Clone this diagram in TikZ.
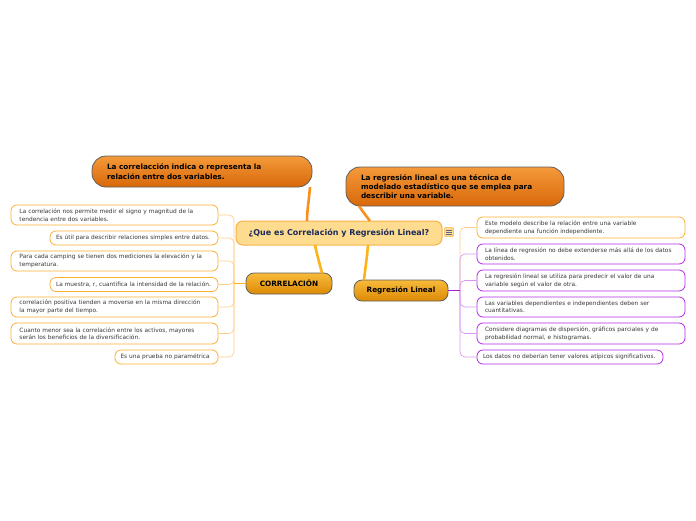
\documentclass[tikz,border=0pt]{standalone}
\usepackage{fontspec}
\setmainfont{DejaVu Sans}
\definecolor{leafO}{HTML}{FBB034}
\definecolor{linkO}{HTML}{FDD08C}
\definecolor{leafP}{HTML}{B62BEA}
\definecolor{linkP}{HTML}{DA95F0}
\definecolor{linkPd}{HTML}{A51FD6}
\definecolor{txtG}{HTML}{3A3A3A}
\definecolor{navy}{HTML}{1B2A5A}
\definecolor{pillTop}{HTML}{F49A3A}
\definecolor{pillBot}{HTML}{D8680A}
\definecolor{goldTop}{HTML}{F8BA3A}
\definecolor{goldBot}{HTML}{DC8A06}
\definecolor{edgeG}{HTML}{5F5F5F}
\definecolor{mainFill}{HTML}{FDDC90}
\definecolor{mainEdge}{HTML}{F7B24A}
\definecolor{thickO}{HTML}{F9901E}
\definecolor{thickY}{HTML}{FDB31A}
\begin{document}
\begin{tikzpicture}[x=1pt,y=-1pt,
  mainnode/.style={draw=mainEdge, line width=1pt, fill=mainFill, rounded corners=7pt,
    minimum width=206pt, minimum height=24pt, text=navy,
    font=\fontsize{8}{9}\selectfont\bfseries},
  bigpill/.style={draw=edgeG, line width=0.8pt, top color=pillTop, bottom color=pillBot,
    rounded corners=14pt, align=left, inner xsep=17pt,
    font=\fontsize{7.3}{10}\selectfont\bfseries, text=black},
  subpill/.style={draw=edgeG, line width=0.8pt, top color=goldTop, bottom color=goldBot,
    rounded corners=8pt, minimum height=21pt, text=black,
    font=\fontsize{7.3}{8}\selectfont\bfseries},
  leaf/.style={draw=leafO, line width=0.8pt, fill=white, rounded corners=6pt,
    align=left, text=txtG, font=\fontsize{5.85}{7.6}\selectfont, inner ysep=2pt},
  leafpur/.style={leaf, draw=leafP},
  linkOr/.style={draw=linkO, line width=0.7pt, rounded corners=5pt},
  linkPu/.style={draw=linkP, line width=0.7pt, rounded corners=5pt},
  thick1/.style={draw=thickO, line width=2.6pt},
  thick2/.style={draw=thickY, line width=2.6pt}
]
\useasboundingbox (0,0) rectangle (696,520);

% central
\node[mainnode] (c) at (339,233) {¿Que es Correlación y Regresión Lineal?};
\node[draw=mainEdge, fill=mainFill, line width=0.5pt, rounded corners=1pt,
  minimum width=9pt, minimum height=9pt, inner sep=0pt] (menu) at (449,232) {};
\draw[navy!70, line width=0.5pt] (446,229.8) -- (452,229.8) (446,232) -- (452,232) (446,234.2) -- (452,234.2);

% main branches
\node[bigpill, minimum width=220pt, minimum height=31pt, text width=190pt, inner xsep=15pt] (tl) at (202,171.5)
  {La correlacción indica o representa la\\relación entre dos variables.};
\node[bigpill, minimum width=218pt, minimum height=39pt, text width=188pt, inner xsep=15pt,
  font=\fontsize{7.3}{9}\selectfont\bfseries] (tr) at (455,186.5)
  {La regresión lineal es una técnica de\\modelado estadístico que se emplea para\\describir una variable.};
\node[subpill, minimum width=86pt] (corr) at (289,283.5) {CORRELACIÓN};
\node[subpill, minimum width=94pt] (reg) at (401,290.5) {Regresión Lineal};

% thick connector end points
\coordinate (c1) at (307,221);
\coordinate (c2) at (370,221);
\coordinate (c3) at (315,245);
\coordinate (c4) at (368,245);
\coordinate (t1) at (310,187);
\coordinate (t2) at (359,206);
\coordinate (k1) at (322,273);
\coordinate (k2) at (364,280);

% left leaves
\node[leaf, minimum width=207pt, minimum height=20pt, text width=190pt, inner xsep=8.5pt] (l1) at (114.5,215)
  {La correlación nos permite medir el signo y magnitud de la\\tendencia entre dos variables.};
\node[leaf, minimum width=168pt, minimum height=14pt, text width=156pt, inner xsep=6pt] (l2) at (134,238)
  {Es útil para describir relaciones simples entre datos.};
\node[leaf, minimum width=207pt, minimum height=20pt, text width=190pt, inner xsep=8.5pt] (l3) at (114.5,261)
  {Para cada camping se tienen dos mediciones la elevación y la\\temperatura.};
\node[leaf, minimum width=168pt, minimum height=14pt, text width=156pt, inner xsep=6pt] (l4) at (134,284.5)
  {La muestra, r, cuantifica la intensidad de la relación.};
\node[leaf, minimum width=207pt, minimum height=20pt, text width=190pt, inner xsep=8.5pt] (l5) at (114.5,307)
  {correlación positiva tienden a moverse en la misma dirección\\la mayor parte del tiempo.};
\node[leaf, minimum width=207pt, minimum height=21pt, text width=190pt, inner xsep=8.5pt] (l6) at (114.5,333.5)
  {Cuanto menor sea la correlación entre los activos, mayores\\serán los beneficios de la diversificación.};
\node[leaf, minimum width=103pt, minimum height=14pt, text width=92pt, inner xsep=5.5pt] (l7) at (166.5,357)
  {Es una prueba no paramétrica};

% right leaves
\node[leaf, minimum width=208pt, minimum height=21pt, text width=192pt, inner xsep=8pt] (r1) at (581,227.5)
  {Este modelo describe la relación entre una variable\\dependiente una función independiente.};
\node[leafpur, minimum width=208pt, minimum height=20pt, text width=192pt, inner xsep=8pt] (r2) at (581,254)
  {La línea de regresión no debe extenderse más allá de los datos\\obtenidos.};
\node[leafpur, minimum width=208pt, minimum height=21pt, text width=192pt, inner xsep=8pt] (r3) at (581,280.5)
  {La regresión lineal se utiliza para predecir el valor de una\\variable según el valor de otra.};
\node[leafpur, minimum width=208pt, minimum height=20pt, text width=192pt, inner xsep=8pt] (r4) at (581,307)
  {Las variables dependientes e independientes deben ser\\cuantitativas.};
\node[leafpur, minimum width=208pt, minimum height=21pt, text width=192pt, inner xsep=8pt] (r5) at (581,333.5)
  {Considere diagramas de dispersión, gráficos parciales y de\\probabilidad normal, e histogramas.};
\node[leafpur, minimum width=186pt, minimum height=14pt, text width=174pt, inner xsep=6pt] (r6) at (570,357)
  {Los datos no deberían tener valores atípicos significativos.};

% trunks
\coordinate (tL) at (234,283.5);
\coordinate (tR) at (460,290.5);
\foreach \n in {l1,l2,l3,l4,l5,l6,l7} {\draw[linkOr] (\n.east) -| (tL);}
\draw[draw=thickY, line width=1.4pt] (corr.west) -- (tL);
\draw[linkOr] (r1.west) -| (tR);
\foreach \n in {r2,r3,r4,r5,r6} {\draw[linkPu] (\n.west) -| (tR);}
\draw[draw=linkPd, line width=1.4pt] (reg.east) -- (tR);

% thick main connectors
\draw[thick1] (t1) .. controls (309,200) and (307,210) .. (c1);
\draw[thick2] (c3) .. controls (317,255) and (320,265) .. (k1);
\draw[thick1] (t2) .. controls (363,212) and (367,217) .. (c2);
\draw[thick2] (c4) .. controls (367,258) and (365,270) .. (k2);
\end{tikzpicture}
\end{document}
